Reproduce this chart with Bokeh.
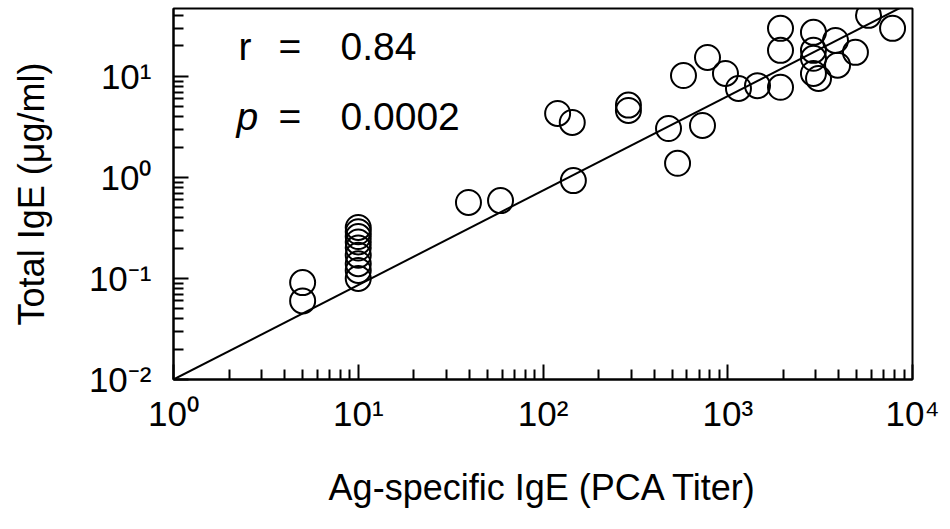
from bokeh.plotting import figure
from bokeh.models import FixedTicker, Label, CustomJSTickFormatter
from bokeh.embed import file_html
from bokeh.resources import INLINE

# ---- data ----
pca_titer = [5, 5,
             10, 10, 10, 10, 10, 10, 10, 10, 10,
             39.5, 58.9, 120, 144, 146, 290, 290, 478, 535, 730,
             777, 576, 972, 1143, 1449, 1930, 1930, 1930,
             2910, 2910, 2910, 2910, 3100, 3830, 3930, 4910, 5780, 7800]
total_ige = [0.091, 0.06,
             0.32, 0.29, 0.26, 0.23, 0.2, 0.17, 0.14, 0.12, 0.1,
             0.565, 0.59, 4.3, 3.5, 0.93, 5.2, 4.6, 3.05, 1.38, 3.27,
             15.4, 10.2, 10.7, 7.6, 8.1, 7.8, 29.9, 18.1,
             27.3, 18.1, 15.1, 10.7, 9.55, 22.7, 12.9, 17.3, 40.2, 29.9]

fit_x = [1, 10000]
fit_y = [0.01, 55]

x_exponents = [0, 1, 2, 3, 4]
y_exponents = [-2, -1, 0, 1]

r_text = "0.84"
p_text = "0.0002"

FONT = "Liberation Sans"

p = figure(width=950, height=529, x_axis_type="log", y_axis_type="log",
           x_range=(1, 1e4), y_range=(0.01, 47),
           output_backend="svg", toolbar_location=None,
           min_border_left=173, min_border_right=38,
           min_border_top=8, min_border_bottom=150)
p.xgrid.visible = False
p.ygrid.visible = False
p.outline_line_color = "black"
p.outline_line_width = 2
p.background_fill_color = "white"
p.border_fill_color = "white"

x_major = [10.0 ** e for e in x_exponents]
x_minor = [m * 10.0 ** e for e in x_exponents[:-1] for m in range(2, 10)]
y_major = [10.0 ** e for e in y_exponents]
y_minor = [m * 10.0 ** e for e in y_exponents for m in range(2, 10)]

p.xaxis.ticker = FixedTicker(ticks=x_major, minor_ticks=x_minor)
p.yaxis.ticker = FixedTicker(ticks=y_major, minor_ticks=y_minor)

sup_fmt = CustomJSTickFormatter(code="""
const sup = {'0':'\u2070','1':'\u00b9','2':'\u00b2','3':'\u00b3','4':'\u2074',
             '5':'\u2075','6':'\u2076','7':'\u2077','8':'\u2078','9':'\u2079','-':'\u207b'};
const e = String(Math.round(Math.log10(tick)));
let s = '10';
for (const c of e) { s += sup[c]; }
return s;
""")

for ax in (p.xaxis[0], p.yaxis[0]):
    ax.formatter = sup_fmt
    ax.axis_line_color = "black"
    ax.axis_line_width = 2
    ax.major_tick_line_color = "black"
    ax.minor_tick_line_color = "black"
    ax.major_tick_line_width = 2
    ax.minor_tick_line_width = 2
    ax.major_tick_in = 15
    ax.major_tick_out = 0
    ax.minor_tick_in = 10
    ax.minor_tick_out = 0
    ax.major_label_text_font = FONT
    ax.major_label_text_font_size = "35px"
    ax.major_label_text_color = "black"
    ax.axis_label_text_font = FONT
    ax.axis_label_text_font_size = "36px"
    ax.axis_label_text_font_style = "normal"
    ax.axis_label_text_color = "black"

p.xaxis.major_label_standoff = 14
p.yaxis.major_label_standoff = 22

p.xaxis.axis_label = "Ag-specific IgE (PCA Titer)"
p.xaxis.axis_label_standoff = 31
p.yaxis.axis_label = "Total IgE (\u03bcg/ml)"
p.yaxis.axis_label_standoff = 34

# regression line and data
p.line(fit_x, fit_y, line_color="black", line_width=2)
p.scatter(pca_titer, total_ige, size=25, marker="circle",
          fill_color=None, line_color="black", line_width=2)

# statistics annotation
ANN = 39
for txt, xx, yy, style in [("r", 65, 333, "normal"), ("=", 105, 333, "normal"),
                           (r_text, 167, 333, "normal"),
                           ("p", 63, 263, "italic"), ("=", 105, 263, "normal"),
                           (p_text, 167, 263, "normal")]:
    p.add_layout(Label(x=xx, y=yy, x_units="screen", y_units="screen",
                       text=txt, text_align="left", text_baseline="alphabetic",
                       text_font=FONT, text_font_size=f"{ANN}px",
                       text_font_style=style, text_color="black"))

open("out.html", "w").write(file_html(p, INLINE))
